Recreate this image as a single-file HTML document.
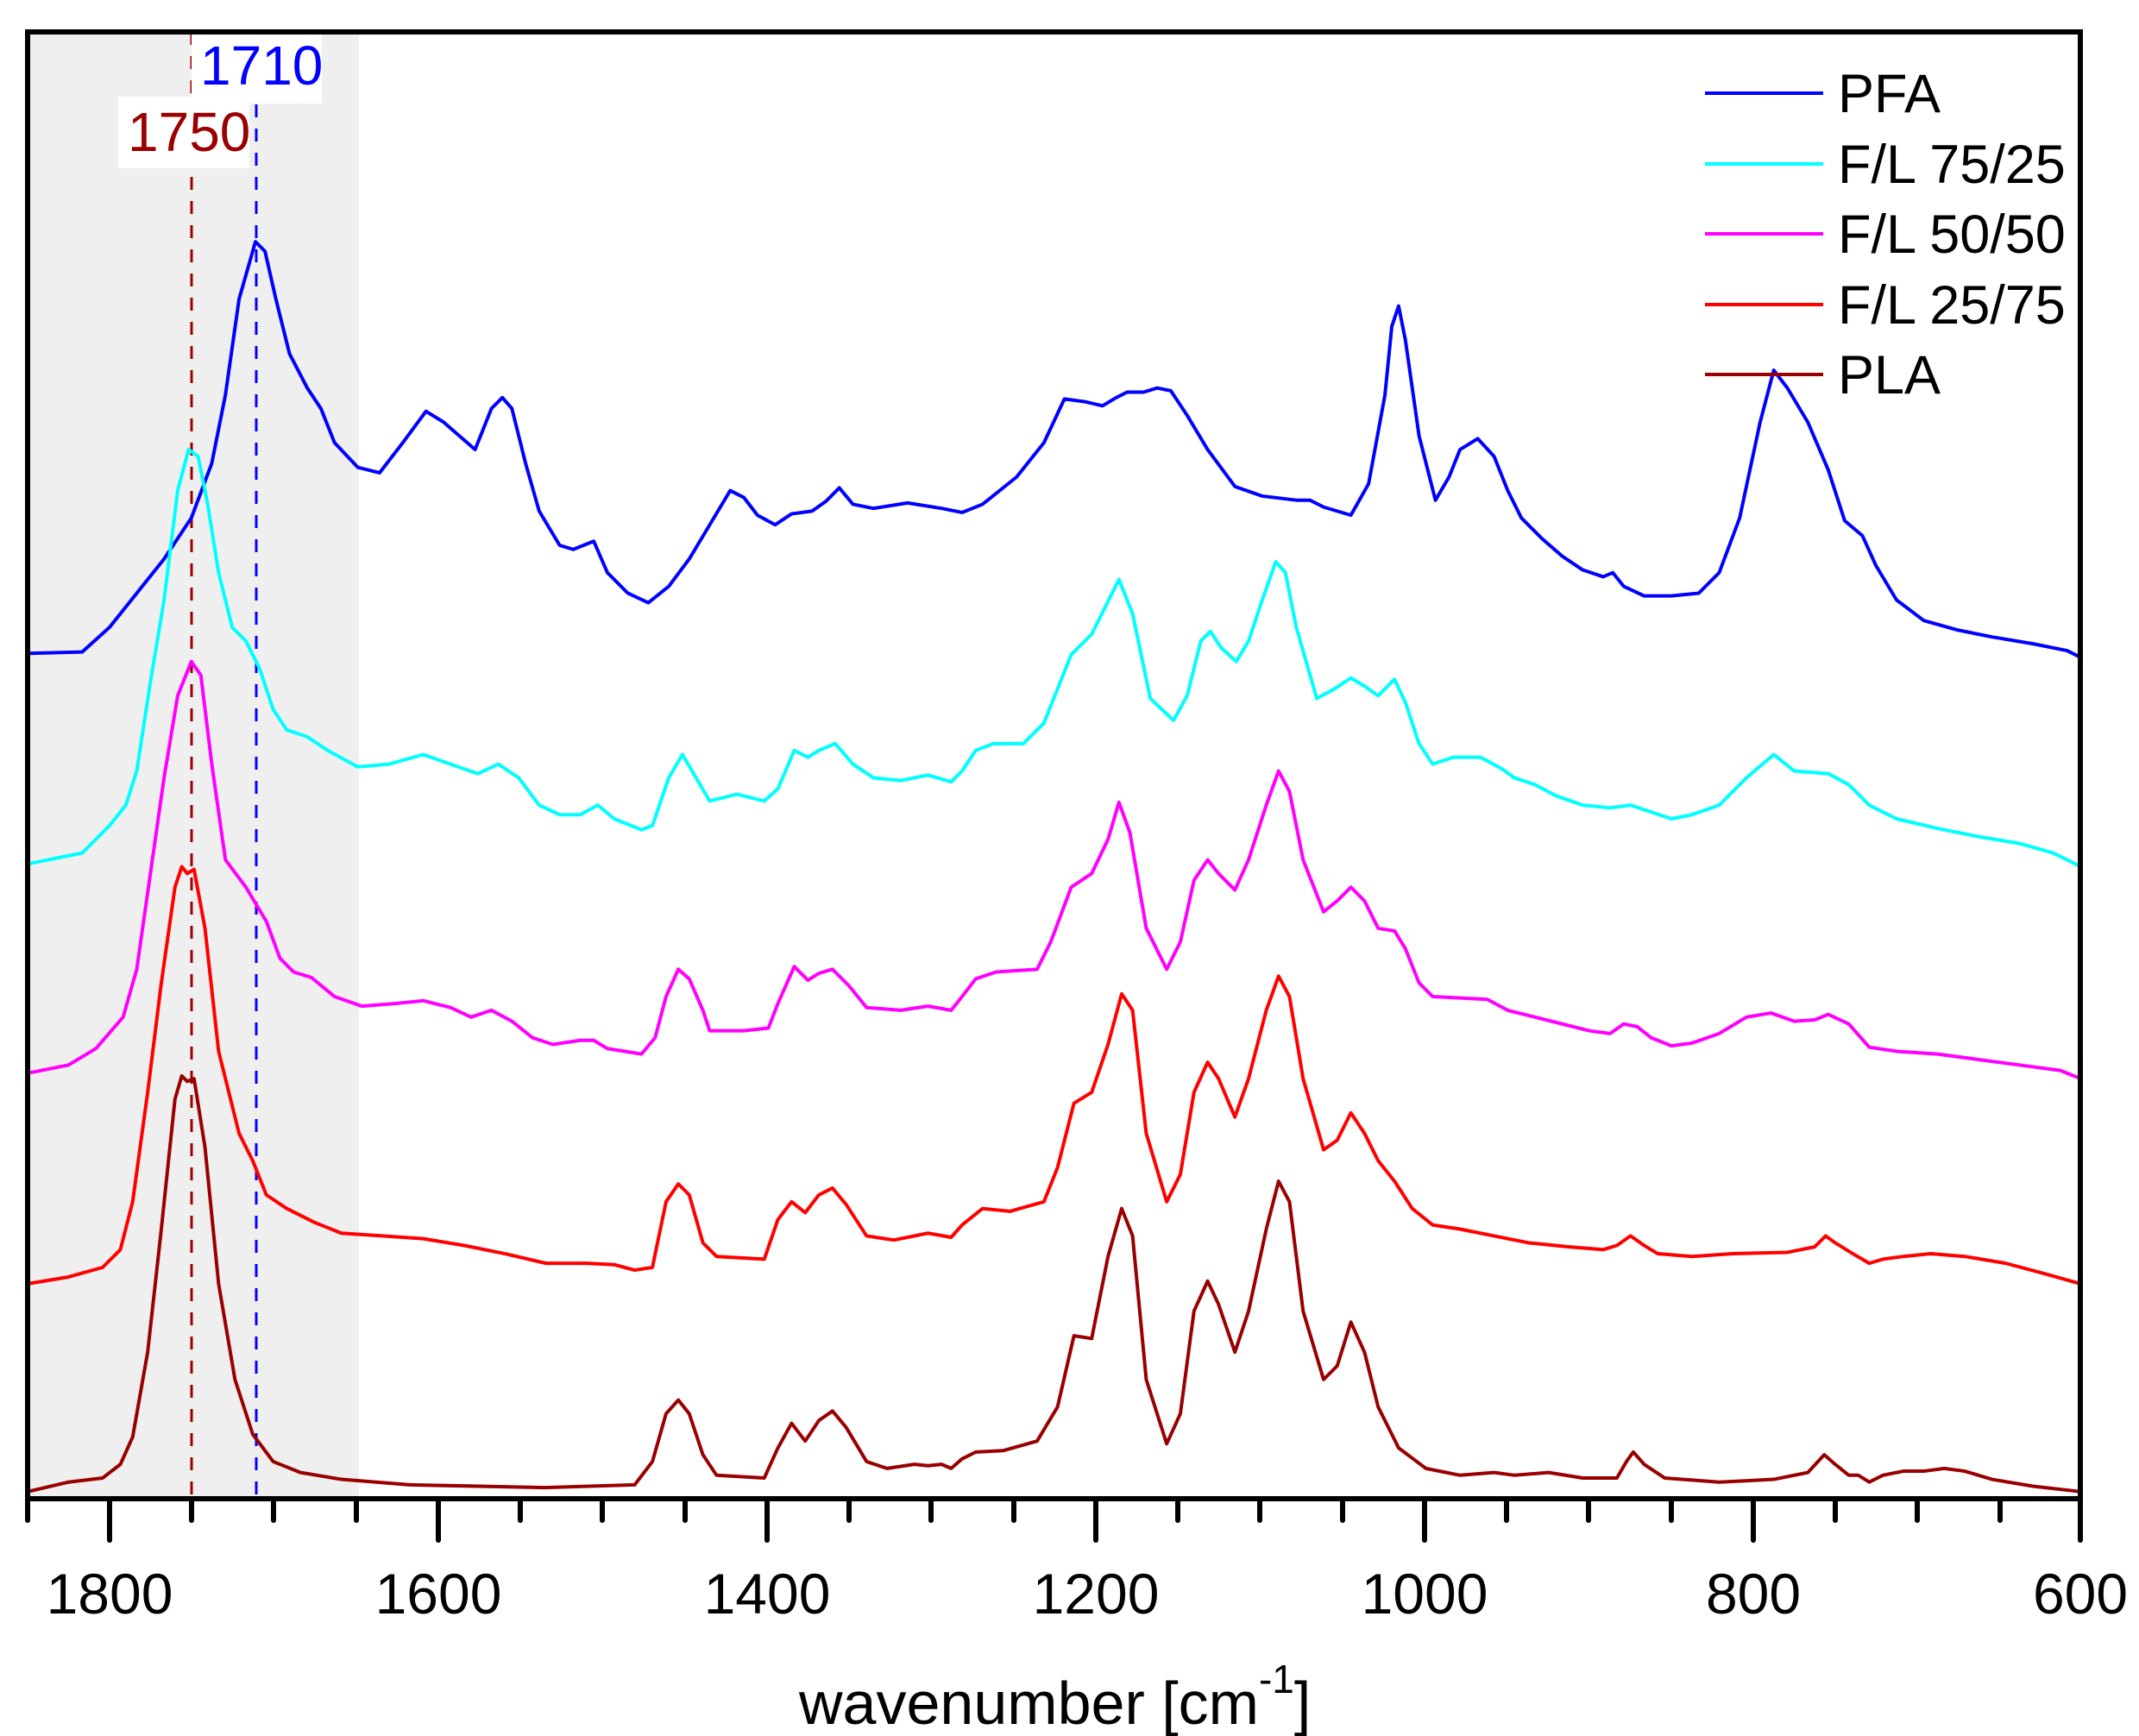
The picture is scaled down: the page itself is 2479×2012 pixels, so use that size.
<!DOCTYPE html>
<html><head><meta charset="utf-8"><style>html,body{margin:0;padding:0;background:#fff}svg{display:block}</style></head>
<body>
<svg width="2479" height="2012" viewBox="0 0 2479 2012" xmlns="http://www.w3.org/2000/svg" font-family="Liberation Sans, Arial, sans-serif">
<rect x="0" y="0" width="2479" height="2012" fill="#fff"/>
<rect x="34" y="37" width="382" height="1700" fill="#efefef"/>
<line x1="222" y1="37" x2="222" y2="1737" stroke="#990000" stroke-width="3" stroke-dasharray="15,13"/>
<line x1="297" y1="37" x2="297" y2="1737" stroke="#0000ff" stroke-width="3" stroke-dasharray="15,13"/>
<rect x="222" y="37" width="151" height="83" fill="#fff"/>
<rect x="137" y="112" width="152" height="83" fill="#fff"/>
<text x="232" y="98" font-size="64" fill="#0000ff">1710</text>
<text x="148" y="175" font-size="64" fill="#990000">1750</text>
<g transform="translate(0.4,-2) scale(1.581,1.585)" fill="none" stroke-linejoin="round">
<polyline vector-effect="non-scaling-stroke" stroke-width="4" stroke="#0000ff" points="20,479 60,478 80,460 100,435 120,410 140,380 155,340 165,290 175,220 187,178 194,185 202,220 212,260 225,285 235,300 245,325 262,343 278,347 295,325 312,302 325,310 348,330 360,300 368,292 375,300 385,340 395,375 410,400 420,403 435,397 445,420 460,435 475,442 490,430 505,410 520,385 535,360 545,365 555,378 568,385 580,377 595,375 605,368 615,358 625,370 640,373 665,369 690,373 705,376 720,370 745,350 765,325 780,293 795,295 808,298 818,292 826,288 838,288 848,285 858,287 870,305 885,330 905,357 925,364 950,367 960,367 970,372 990,378 1003,355 1015,290 1020,240 1025,225 1030,250 1040,320 1052,367 1062,350 1070,330 1083,322 1095,335 1105,360 1115,380 1130,395 1145,408 1160,418 1175,423 1182,420 1190,430 1205,437 1225,437 1245,435 1260,420 1275,380 1290,310 1300,272 1310,285 1325,310 1340,345 1352,382 1365,393 1375,415 1390,440 1410,455 1435,462 1460,467 1490,472 1515,477 1525,482"/>
<polyline vector-effect="non-scaling-stroke" stroke-width="4" stroke="#00ffff" points="20,633 60,625 80,605 92,590 100,565 110,500 120,440 130,360 138,330 145,335 152,370 160,420 170,460 180,470 190,490 200,520 210,535 225,540 240,550 262,562 285,560 310,553 330,560 350,567 365,560 380,570 395,590 410,597 425,597 438,590 450,600 470,608 478,605 490,570 500,553 510,570 520,587 540,582 560,587 570,578 582,550 592,555 600,550 612,545 625,560 640,570 660,572 680,568 697,573 705,565 715,550 728,545 750,545 765,530 775,505 785,480 800,465 810,445 820,425 830,450 843,512 860,528 870,510 880,470 887,463 895,475 906,485 915,470 925,440 935,412 942,420 950,460 965,512 978,505 990,497 1000,503 1010,510 1022,498 1030,515 1040,545 1050,560 1065,555 1085,555 1100,563 1110,570 1125,575 1140,583 1160,590 1180,592 1195,590 1210,595 1225,600 1240,597 1260,590 1280,570 1300,553 1315,565 1340,567 1355,575 1370,590 1390,600 1420,607 1450,613 1480,618 1505,625 1525,635"/>
<polyline vector-effect="non-scaling-stroke" stroke-width="4" stroke="#ff00ff" points="20,786 50,780 70,768 90,745 100,710 110,640 120,570 130,510 140,485 147,495 155,560 165,630 180,650 195,675 205,702 215,712 228,716 245,730 265,737 290,735 310,733 330,738 345,745 360,740 375,748 390,760 405,765 425,762 435,762 445,768 470,772 480,760 488,730 497,710 505,717 515,740 520,755 545,755 563,753 570,735 582,708 592,718 600,713 610,710 622,722 635,738 660,740 680,737 697,740 705,730 715,717 730,712 760,710 770,690 785,650 800,640 812,615 820,588 828,610 840,680 855,710 865,690 875,645 885,630 893,640 905,652 915,630 928,590 937,565 945,580 955,630 970,668 980,660 990,650 1000,660 1010,680 1022,682 1030,695 1040,720 1050,730 1070,731 1090,732 1105,740 1125,745 1145,750 1165,755 1180,757 1190,750 1200,752 1210,760 1225,766 1240,764 1260,757 1280,745 1298,742 1315,748 1330,747 1340,743 1355,750 1370,767 1390,770 1420,772 1450,776 1480,780 1510,784 1525,790"/>
<polyline vector-effect="non-scaling-stroke" stroke-width="4" stroke="#ff0000" points="20,940 50,935 75,928 88,915 97,880 108,800 118,720 128,650 133,635 137,640 142,637 150,680 160,770 175,830 185,850 195,875 210,885 230,895 250,903 280,905 310,907 340,912 370,918 400,925 430,925 450,926 465,930 478,928 488,880 497,867 505,875 515,910 525,920 560,922 570,893 580,880 590,888 600,875 610,870 620,882 635,905 655,908 680,903 697,906 705,897 720,885 740,887 765,880 775,855 787,808 800,800 812,765 822,728 830,740 840,830 855,880 865,860 875,800 885,778 893,790 905,818 915,790 928,740 937,715 945,730 955,790 970,842 980,835 990,815 1000,830 1010,850 1022,865 1035,885 1050,897 1070,900 1095,905 1120,910 1150,913 1175,915 1185,912 1195,905 1205,912 1215,918 1240,920 1270,918 1310,917 1330,913 1338,905 1345,910 1358,918 1370,925 1380,922 1395,920 1415,918 1440,920 1470,925 1500,933 1525,940"/>
<polyline vector-effect="non-scaling-stroke" stroke-width="4" stroke="#990000" points="20,1092 50,1085 75,1082 88,1072 97,1052 108,990 118,900 128,805 133,788 137,792 142,790 150,840 160,940 172,1010 185,1050 200,1070 220,1078 250,1083 300,1087 400,1089 465,1087 478,1070 488,1035 497,1025 505,1035 515,1065 525,1080 560,1082 570,1060 580,1042 590,1055 600,1040 610,1033 620,1045 635,1070 650,1075 670,1072 680,1073 690,1072 697,1075 705,1068 715,1063 735,1062 760,1055 775,1030 787,978 800,980 812,920 822,885 830,905 840,1010 855,1057 865,1035 875,960 885,938 893,955 905,990 915,960 928,900 937,865 945,880 955,960 970,1010 980,1000 990,968 1000,990 1010,1030 1025,1060 1045,1075 1070,1080 1095,1078 1110,1080 1135,1078 1160,1082 1185,1082 1192,1070 1197,1063 1205,1072 1220,1082 1260,1085 1300,1083 1325,1078 1337,1065 1345,1072 1355,1080 1362,1080 1370,1085 1380,1080 1395,1077 1410,1077 1425,1075 1440,1077 1460,1083 1490,1088 1525,1092"/>
</g>
<rect x="32" y="37" width="2379" height="1700" fill="none" stroke="#000" stroke-width="6"/>
<g stroke="#000" stroke-width="6" stroke-linecap="round">
<line x1="32" y1="1737" x2="32" y2="1762"/>
<line x1="127" y1="1737" x2="127" y2="1785"/>
<line x1="222" y1="1737" x2="222" y2="1762"/>
<line x1="317" y1="1737" x2="317" y2="1762"/>
<line x1="413" y1="1737" x2="413" y2="1762"/>
<line x1="508" y1="1737" x2="508" y2="1785"/>
<line x1="603" y1="1737" x2="603" y2="1762"/>
<line x1="698" y1="1737" x2="698" y2="1762"/>
<line x1="794" y1="1737" x2="794" y2="1762"/>
<line x1="889" y1="1737" x2="889" y2="1785"/>
<line x1="984" y1="1737" x2="984" y2="1762"/>
<line x1="1079" y1="1737" x2="1079" y2="1762"/>
<line x1="1175" y1="1737" x2="1175" y2="1762"/>
<line x1="1270" y1="1737" x2="1270" y2="1785"/>
<line x1="1365" y1="1737" x2="1365" y2="1762"/>
<line x1="1460" y1="1737" x2="1460" y2="1762"/>
<line x1="1556" y1="1737" x2="1556" y2="1762"/>
<line x1="1651" y1="1737" x2="1651" y2="1785"/>
<line x1="1746" y1="1737" x2="1746" y2="1762"/>
<line x1="1841" y1="1737" x2="1841" y2="1762"/>
<line x1="1937" y1="1737" x2="1937" y2="1762"/>
<line x1="2032" y1="1737" x2="2032" y2="1785"/>
<line x1="2127" y1="1737" x2="2127" y2="1762"/>
<line x1="2222" y1="1737" x2="2222" y2="1762"/>
<line x1="2318" y1="1737" x2="2318" y2="1762"/>
<line x1="2411" y1="1737" x2="2411" y2="1785"/>
</g>
<g font-size="66" text-anchor="middle" fill="#000">
<text x="127" y="1870">1800</text>
<text x="508" y="1870">1600</text>
<text x="889" y="1870">1400</text>
<text x="1270" y="1870">1200</text>
<text x="1651" y="1870">1000</text>
<text x="2032" y="1870">800</text>
<text x="2411" y="1870">600</text>
</g>
<text x="926" y="1998" font-size="70" fill="#000">wavenumber [cm<tspan font-size="46" dy="-36">-1</tspan><tspan dy="36">]</tspan></text>
<g stroke-width="4">
<line x1="1976" y1="108" x2="2113" y2="108" stroke="#0000ff"/>
<line x1="1976" y1="190" x2="2113" y2="190" stroke="#00ffff"/>
<line x1="1976" y1="271" x2="2113" y2="271" stroke="#ff00ff"/>
<line x1="1976" y1="353" x2="2113" y2="353" stroke="#ff0000"/>
<line x1="1976" y1="434" x2="2113" y2="434" stroke="#990000"/>
</g>
<g font-size="63" fill="#000">
<text x="2130" y="130">PFA</text>
<text x="2130" y="212">F/L 75/25</text>
<text x="2130" y="293">F/L 50/50</text>
<text x="2130" y="375">F/L 25/75</text>
<text x="2130" y="456">PLA</text>
</g>
</svg>
</body></html>
